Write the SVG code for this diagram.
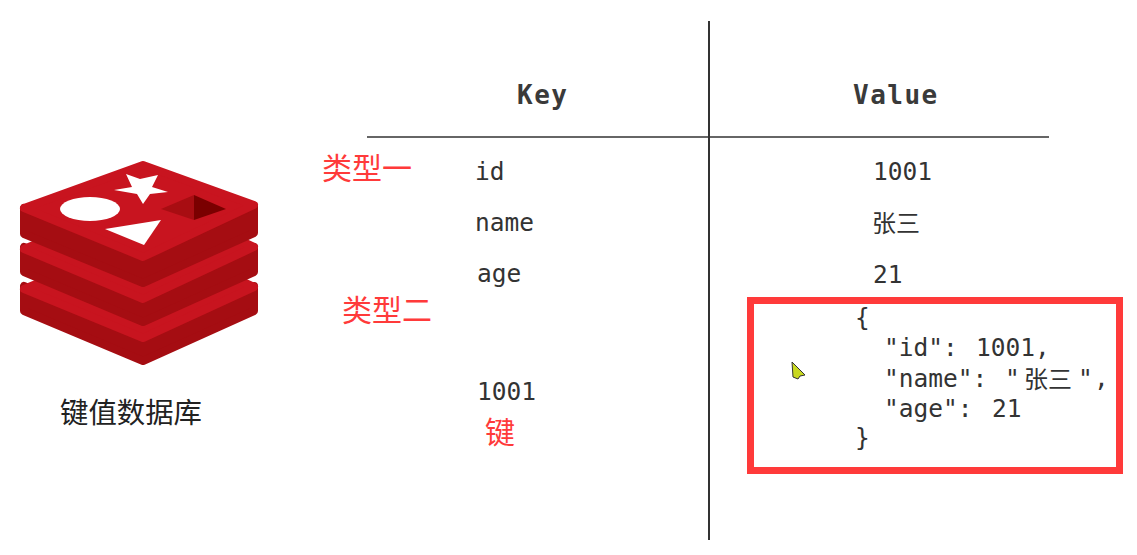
<svg xmlns="http://www.w3.org/2000/svg" width="1137" height="555" viewBox="0 0 1137 555">
<style>
.m{font-family:"DejaVu Sans Mono","Liberation Mono",monospace;font-size:24.5px;fill:#333}
.h{font-weight:bold;font-size:26px;letter-spacing:1.5px;fill:#3a3a3a}
.r{font-family:"Liberation Sans","Noto Sans CJK SC",sans-serif;font-size:30px;fill:#ff3a3a}
.c{font-family:"Noto Sans CJK SC",sans-serif;fill:#333}
.side{fill:#a50d12;stroke:#a50d12;stroke-width:8;stroke-linejoin:round}
.face{fill:#c8141f;stroke:#c8141f;stroke-width:8;stroke-linejoin:round}
</style>
<rect width="1137" height="555" fill="#fff"/>
<g id="logo">
<path class="side" d="M24 286V311L143 361L254 311V286L143 335Z"/>
<path class="face" d="M24 289L60 274H226L254 287L143 338Z"/>
<path class="side" d="M24 247V272L143 322L254 272V247L143 297Z"/>
<path class="face" d="M24 249L60 234H226L254 247L143 299Z"/>
<path class="side" d="M24 208V234L143 283L254 233V206L143 256Z"/>
<path class="face" d="M24 208L143 165L254 205L143 257Z"/>
<polygon fill="#fff" points="126,174 140,179 158,175 152,187 168,192 150,194 143,204 137,194 114,190 132,187"/>
<ellipse cx="90" cy="209" rx="30" ry="12" fill="#fff"/>
<polygon fill="#fff" points="105,229 161,220 144,245"/>
<polygon fill="#a80d12" points="161,209 194,195 194,220"/>
<polygon fill="#7a0000" points="194,195 226,209 194,220"/>
</g>
<g id="connectors" stroke="#333" fill="none">
<path d="M709 21V540" stroke-width="2"/>
<path d="M367 137H1049" stroke-width="1.5"/>
</g>
<g id="key-col">
<text class="m h" x="517" y="104">Key</text>
<text class="m" x="475" y="180">id</text>
<text class="m" x="475" y="231">name</text>
<text class="m" x="477" y="282">age</text>
<text class="m" x="477" y="400">1001</text>
</g>
<g id="value-col">
<text class="m h" x="853" y="104">Value</text>
<text class="m" x="873" y="180">1001</text>
<text class="c" x="872" y="232" font-size="24">张三</text>
<text class="m" x="873" y="283">21</text>
</g>
<g id="labels">
<text class="r" x="322" y="179">类型一</text>
<text class="r" x="342" y="321">类型二</text>
<text class="r" x="485" y="443">键</text>
<text class="c" x="60" y="423" font-size="28.4" style="fill:#222">键值数据库</text>
</g>
<g id="json-box">
<rect x="750.5" y="300.5" width="369" height="170" fill="#fff" stroke="#ff3a3a" stroke-width="7"/>
<text class="m" x="855" y="326">{</text>
<text class="m" x="884" y="356">"id":</text>
<text class="m" x="976" y="356">1001,</text>
<text class="m" x="884" y="387">"name":</text>
<text class="m" x="1005" y="387">"</text>
<text class="c" x="1024" y="388" font-size="24">张三</text>
<text class="m" x="1078" y="387">"</text>
<text class="m" x="1094" y="387">,</text>
<text class="m" x="884" y="417">"age":</text>
<text class="m" x="992" y="417">21</text>
<text class="m" x="855" y="446">}</text>
</g>
<path id="cursor" d="M792 362L805 375L800 376L798 379L793 377Z" fill="#c8d820" stroke="#333" stroke-width="1"/>
</svg>
